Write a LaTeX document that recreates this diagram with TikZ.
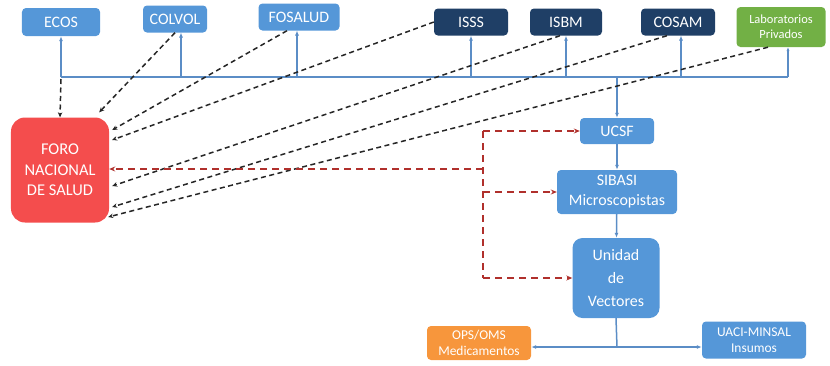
\documentclass[tikz,border=0pt]{standalone}
\usepackage{fontspec}
\setmainfont{Carlito}
\usetikzlibrary{arrows.meta,calc}
\definecolor{bbox}{HTML}{5597D8}
\definecolor{dbox}{HTML}{1F3F66}
\definecolor{gbox}{HTML}{72B045}
\definecolor{obox}{HTML}{F7963C}
\definecolor{rbox}{HTML}{F44D4D}
\definecolor{bline}{HTML}{5B8DC6}
\definecolor{rline}{HTML}{B0302C}
\begin{document}
\begin{tikzpicture}[x=1bp,y=-1bp,
  box/.style={draw=none,fill=bbox,text=white,rounded corners=4bp,inner sep=0pt,align=center,font=\fontsize{16}{20}\selectfont},
  dark/.style={box,fill=dbox},
  green/.style={box,fill=gbox,font=\fontsize{12.5}{15}\selectfont},
  orng/.style={box,fill=obox,font=\fontsize{13.5}{16}\selectfont},
  bus/.style={draw=bline,line width=2bp},
  upar/.style={draw=bline,line width=2bp,-{Latex[length=5bp,width=4bp]}},
  blk/.style={draw=black!85,line width=1.5bp,dash pattern=on 5bp off 3.5bp,-{Stealth[length=5bp,width=4.5bp]}},
  red/.style={draw=rline,line width=2bp,dash pattern=on 7bp off 5bp},
  redar/.style={red,-{Stealth[length=6bp,width=5bp]}}
]
\useasboundingbox (0,0) rectangle (830,365);
% top boxes
\node[box,minimum width=78bp,minimum height=28bp] (ECOS) at (61,22) {ECOS};
\node[box,minimum width=64bp,minimum height=27bp] (COLVOL) at (175,19) {COLVOL};
\node[box,minimum width=81bp,minimum height=27bp] (FOSALUD) at (299,17) {FOSALUD};
\node[dark,minimum width=74bp,minimum height=27bp] (ISSS) at (471,22) {ISSS};
\node[dark,minimum width=72bp,minimum height=27bp] (ISBM) at (566,22) {ISBM};
\node[dark,minimum width=74bp,minimum height=27bp] (COSAM) at (678,22) {COSAM};
\node[green,minimum width=89bp,minimum height=40bp] (LAB) at (781,27) {Laboratorios\\Privados};
% foro
\node[box,fill=rbox,rounded corners=14bp,minimum width=98bp,minimum height=105bp,font=\fontsize{16.5}{20.5}\selectfont] (FORO) at (60,170) {FORO\\NACIONAL\\DE SALUD};
% chain
\node[box,minimum width=74bp,minimum height=26bp] (UCSF) at (617,131) {UCSF};
\node[box,minimum width=120bp,minimum height=44bp] (SIBASI) at (617,192) {SIBASI\\Microscopistas};
\node[box,rounded corners=10bp,minimum width=87bp,minimum height=80bp,font=\fontsize{16}{23}\selectfont] (UNIDAD) at (616,278) {Unidad\\de\\Vectores};
\node[orng,minimum width=104bp,minimum height=34bp] (OPS) at (479,343) {OPS/OMS\\Medicamentos};
\node[box,minimum width=104bp,minimum height=37bp,font=\fontsize{13.5}{16}\selectfont] (UACI) at (754,340) {UACI-MINSAL\\Insumos};
% bus
\coordinate (busL) at (61,77);
\coordinate (busR) at (788,77);
\draw[bus] (busL) -- (busR);
\draw[upar] (ECOS.south |- busL) -- (ECOS.south);
\draw[upar] (181,77) -- (181,32.5);
\draw[upar] (297,77) -- (297,30.5);
\draw[upar] (ISSS.south |- busL) -- (ISSS.south);
\draw[upar] (ISBM.south |- busL) -- (ISBM.south);
\draw[upar] (681,77) -- (681,35.5);
\draw[draw=bline,line width=1.2bp,-{Latex[length=4bp,width=3bp]}] (busR) -- (788,47);
\draw[upar] (617,77) -- (UCSF.north);
\draw[upar,line width=1.5bp] (UCSF) -- (SIBASI);
\draw[upar,line width=1.5bp] (SIBASI) -- (UNIDAD);
\coordinate (split) at (617,347);
\draw[draw=bline,line width=1.5bp] (UNIDAD.south) -- (split);
\draw[upar,line width=1.5bp] (split) -- (OPS.east |- split);
\draw[upar,line width=1.5bp] (split) -- (UACI.west |- split);
% black dashed to FORO
\draw[blk] (61,79) -- (FORO.north);
\draw[blk] (COLVOL.south) -- ([xshift=-10bp,yshift=5bp]FORO.north east);
\draw[blk] ([xshift=-12bp]FOSALUD.south) -- ([xshift=3bp,yshift=40bp]FORO.east);
\draw[blk] (ISSS.west) -- ([xshift=3bp,yshift=30bp]FORO.east);
\draw[blk] ([xshift=-6bp]ISBM.south) -- ([xshift=3bp,yshift=-16bp]FORO.east);
\draw[blk] ([xshift=-11bp]COSAM.south) -- ([xshift=3bp,yshift=-37bp]FORO.east);
\draw[blk] ([xshift=-13bp]LAB.south) -- ([xshift=-1bp,yshift=-47bp]FORO.east);
% red dashed
\coordinate (rj) at (483,169);
\coordinate (rt) at (483,131);
\coordinate (rb) at (483,278);
\draw[redar] (rj) -- (FORO.east |- rj);
\draw[red] (rt) -- (rb);
\draw[redar] (rt) -- (UCSF.west);
\draw[redar] (483,192) -- (SIBASI.west);
\draw[redar] (rb) -- (UNIDAD.west);
\end{tikzpicture}
\end{document}
